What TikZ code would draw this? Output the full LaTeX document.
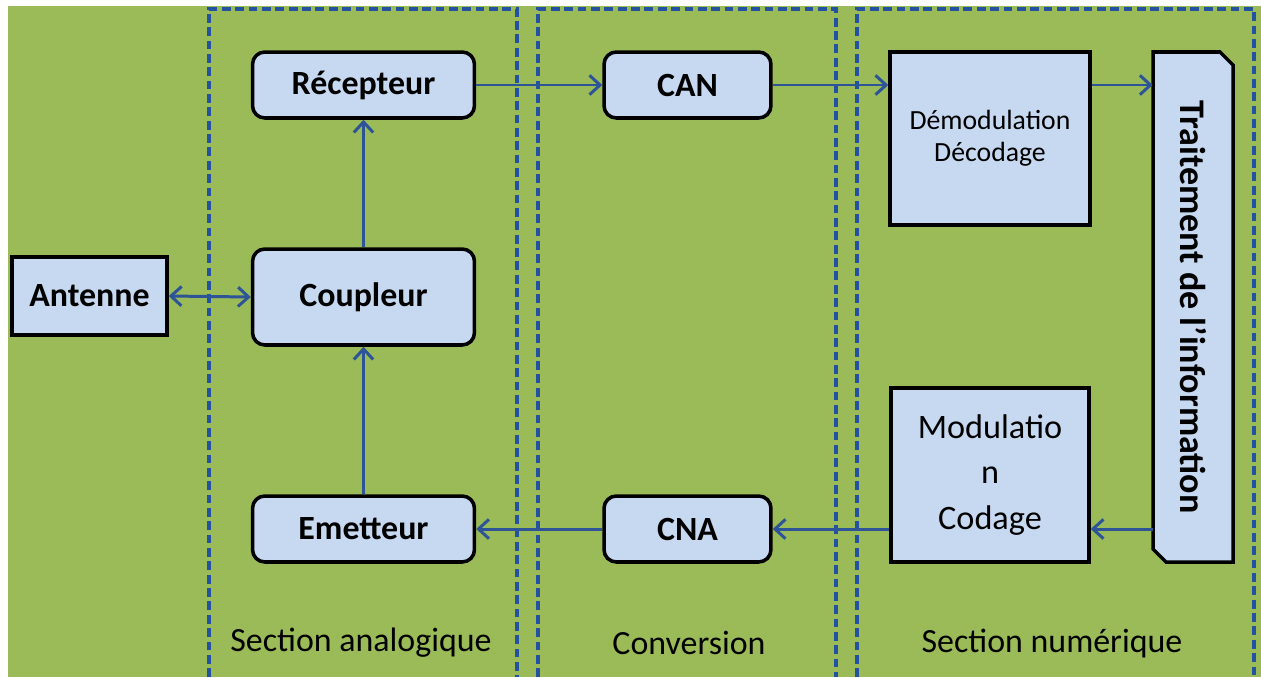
\documentclass[tikz,border=0pt]{standalone}
\usepackage{fontspec}
\setmainfont{Carlito}
\usetikzlibrary{arrows.meta}
\definecolor{bggreen}{RGB}{155,187,89}
\definecolor{boxblue}{RGB}{198,217,241}
\definecolor{arrowblue}{RGB}{44,84,150}
\definecolor{dashblue}{RGB}{35,82,160}
\tikzset{
  blk/.style={draw=black, line width=2pt, fill=boxblue, align=center, inner sep=0pt},
  rblk/.style={blk, rounded corners=7pt},
  lbl/.style={font=\fontsize{19.3}{23}\selectfont\bfseries},
  sec/.style={draw=dashblue, line width=2pt, dash pattern=on 5pt off 2.6pt},
  tip/.tip={Straight Barb[length=6pt,width=11pt,line width=1.7pt]},
  conn/.style={draw=arrowblue, line width=1.7pt, -tip},
  bconn/.style={draw=arrowblue, line width=1.7pt, tip-tip},
  seclabel/.style={font=\fontsize{19.3}{23}\selectfont}
}
\begin{document}
\begin{tikzpicture}[x=0.02cm,y=-0.02cm]
\useasboundingbox (0,0) rectangle (1261,677);
\fill[white] (0,0) rectangle (1261,677);
\fill[bggreen] (8,6) rectangle (1261,677);
% sections
\draw[sec] (209,677) -- (209,9) -- (517,9) -- (517,677);
\draw[sec] (538,677) -- (538,9) -- (836,9) -- (836,677);
\draw[sec] (857,677) -- (857,9) -- (1254,9) -- (1254,677);
\node[seclabel] (sa) at (361,643) {Section analogique};
\node[seclabel] (sc) at (689,643) {Conversion};
\node[seclabel] (sn) at (1052,643) {Section numérique};
% boxes
\node[rblk, lbl, minimum width=4.44cm, minimum height=1.32cm] (rec) at (363.5,85) {Récepteur};
\node[rblk, lbl, minimum width=3.34cm, minimum height=1.32cm] (can) at (687.5,85) {CAN};
\node[blk, minimum width=4cm, minimum height=3.46cm, font=\fontsize{15.8}{18.2}\selectfont] (dem) at (990,138.5) {Démodulation\\Décodage};
\node[blk, lbl, minimum width=3.1cm, minimum height=1.56cm] (ant) at (89.5,296) {Antenne};
\node[rblk, lbl, minimum width=4.44cm, minimum height=1.92cm] (coup) at (363.5,297) {Coupleur};
\node[rblk, lbl, minimum width=4.44cm, minimum height=1.32cm] (emet) at (363.5,529) {Emetteur};
\node[rblk, lbl, minimum width=3.34cm, minimum height=1.32cm] (cna) at (687.5,529) {CNA};
\node[blk, minimum width=3.96cm, minimum height=3.48cm, font=\fontsize{19.5}{26}\selectfont] (mod) at (990,475) {Modulatio\\n\\Codage};
% traitement shape
\filldraw[draw=black, fill=boxblue, line width=2pt, line join=miter]
  (1153,52) -- (1220,52) -- (1233,65) -- (1233,562) -- (1166,562) -- (1153,549) -- cycle;
\node[minimum width=1.6cm, minimum height=10.2cm, inner sep=0pt] (T) at (1193,307) {};
\node[rotate=-90, font=\fontsize{20.5}{24}\selectfont\bfseries] (Ttext) at (T.center) {Traitement de l'information};
% connectors
\draw[bconn] (ant.east) -- (coup.west);
\draw[conn] (coup.north) -- (rec.south);
\draw[conn] (emet.north) -- (coup.south);
\draw[conn] (rec.east) -- (can.west);
\draw[conn] (can.east) -- (dem.west |- can.east);
\draw[conn] (dem.east |- can.east) -- (T.west |- can.east);
\draw[conn] (T.west |- cna.east) -- (mod.east |- cna.east);
\draw[conn] (mod.west |- cna.east) -- (cna.east);
\draw[conn] (cna.west) -- (emet.east);
\end{tikzpicture}
\end{document}
